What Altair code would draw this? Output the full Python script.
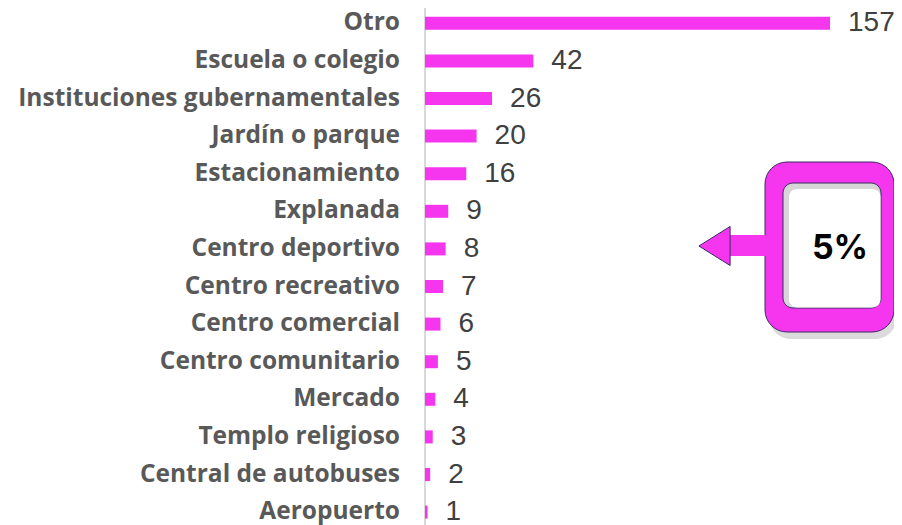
import altair as alt
import pandas as pd

categories = ["Otro", "Escuela o colegio", "Instituciones gubernamentales", "Jardín o parque",
              "Estacionamiento", "Explanada", "Centro deportivo", "Centro recreativo",
              "Centro comercial", "Centro comunitario", "Mercado", "Templo religioso",
              "Central de autobuses", "Aeropuerto"]
values = [157, 42, 26, 20, 16, 9, 8, 7, 6, 5, 4, 3, 2, 1]
callout_text = ["5%"]

MAGENTA = "#F536EE"
df = pd.DataFrame({"cat": categories, "val": values, "idx": list(range(len(categories)))})
one = pd.DataFrame({"t": callout_text})

W, H = 469, 517
xs = alt.Scale(domain=[0, 181.8], nice=False, zero=True, padding=0)
ys = alt.Scale(domain=[-0.407, 13.343], nice=False, zero=False, reverse=True, padding=0)

base = alt.Chart(df)

axis_line = alt.Chart(one).mark_rule(color="#d9d9d9", strokeWidth=2).encode(
    x=alt.value(0), y=alt.value(-3), y2=alt.value(H))

bars = base.mark_bar(orient="horizontal", size=13, color=MAGENTA).encode(
    x=alt.X("val:Q", scale=xs, axis=None),
    y=alt.Y("idx:Q", scale=ys, axis=None))

labels = base.mark_text(align="right", baseline="middle", font="Open Sans", fontWeight="bold",
                        fontSize=24.5, color="#595959").encode(
    x=alt.value(-25), y=alt.Y("idx:Q", scale=ys), text="cat:N")

vals = base.mark_text(align="left", baseline="middle", dx=18, font="Liberation Sans",
                      fontSize=28, color="#404040").encode(
    x=alt.X("val:Q", scale=xs), y=alt.Y("idx:Q", scale=ys), text="val:Q")

c = alt.Chart(one)
shadow = c.mark_rect(fill="#888888", opacity=0.3, cornerRadius=22).encode(
    x=alt.value(344), x2=alt.value(472), y=alt.value(159), y2=alt.value(331))
ring = c.mark_rect(fill=MAGENTA, stroke="#3b2d63", strokeWidth=1, cornerRadius=22).encode(
    x=alt.value(340), x2=alt.value(469), y=alt.value(154), y2=alt.value(324))
inner_shade = c.mark_rect(fill="#d6d6d6", stroke="#3b2d63", strokeWidth=1, cornerRadius=10).encode(
    x=alt.value(358), x2=alt.value(456), y=alt.value(175), y2=alt.value(300))
inner = c.mark_rect(fill="#ffffff", cornerRadius=8).encode(
    x=alt.value(364), x2=alt.value(455.5), y=alt.value(181), y2=alt.value(299.5))
shaft = c.mark_rect(fill=MAGENTA).encode(
    x=alt.value(303), x2=alt.value(346), y=alt.value(227), y2=alt.value(248))
head = c.mark_point(shape="M -0.8 0 L 0.8 -1 L 0.8 1 Z", filled=True, fill=MAGENTA,
                    stroke="#3b2d63", strokeWidth=1, opacity=1, size=1521).encode(
    x=alt.value(289.5), y=alt.value(238))
pct = c.mark_text(align="center", baseline="middle", font="Inter", fontWeight="bold",
                  fontSize=34, color="#000000").encode(
    x=alt.value(415), y=alt.value(241), text="t:N")

chart = alt.layer(axis_line, bars, labels, vals, shadow, ring, inner_shade, inner, shaft, head, pct).properties(
    width=W, height=H, autosize="none",
    padding={"left": 417, "top": 0, "right": 0, "bottom": 0}
).configure_view(stroke=None)

chart.save("out.html", embed_options={"renderer": "svg", "actions": False})
